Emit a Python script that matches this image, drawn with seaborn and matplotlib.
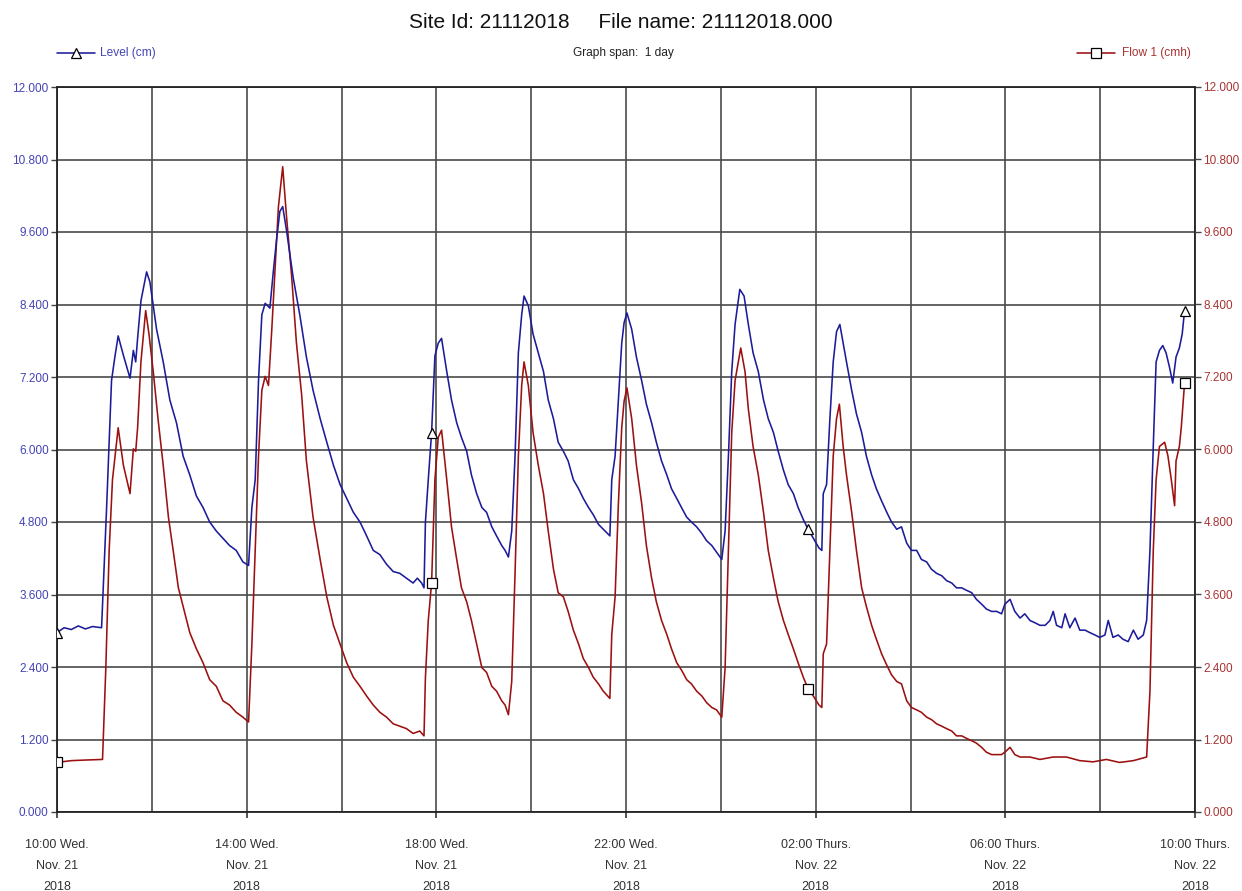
import numpy as np
import pandas as pd
import matplotlib
matplotlib.use("Agg")
import matplotlib.pyplot as plt
from matplotlib.lines import Line2D
import seaborn as sns

# Horas desde 10:00 Wed. Nov. 21 2018
level_hours = [0.0, 0.15, 0.3, 0.45, 0.6, 0.75, 0.94, 1.05, 1.15, 1.22, 1.29, 1.40, 1.54, 1.61, 1.66, 1.70,
               1.77, 1.89, 1.96, 2.10, 2.24, 2.38, 2.52, 2.66, 2.80, 2.94, 3.08, 3.22, 3.36, 3.50, 3.64, 3.78,
               3.92, 4.04, 4.11, 4.18, 4.25, 4.32, 4.39, 4.49, 4.56, 4.63, 4.70, 4.76, 4.84, 4.98, 5.12, 5.26,
               5.40, 5.55, 5.69, 5.83, 5.97, 6.11, 6.25, 6.39, 6.53, 6.67, 6.81, 6.95, 7.09, 7.23, 7.37, 7.51,
               7.60, 7.69, 7.74, 7.77, 7.83, 7.90, 7.97, 8.04, 8.11, 8.22, 8.32, 8.43, 8.53, 8.64, 8.74, 8.85,
               8.96, 9.06, 9.17, 9.27, 9.38, 9.45, 9.52, 9.59, 9.66, 9.73, 9.80, 9.85, 9.94, 10.04, 10.15, 10.26,
               10.36, 10.47, 10.57, 10.68, 10.78, 10.89, 11.00, 11.10, 11.21, 11.31, 11.42, 11.52, 11.66, 11.70,
               11.77, 11.84, 11.91, 11.96, 12.02, 12.12, 12.22, 12.33, 12.43, 12.54, 12.64, 12.75, 12.86, 12.96,
               13.07, 13.17, 13.28, 13.38, 13.49, 13.60, 13.70, 13.81, 13.91, 14.02, 14.09, 14.16, 14.23, 14.30,
               14.40, 14.49, 14.58, 14.68, 14.79, 14.90, 15.00, 15.11, 15.21, 15.32, 15.42, 15.53, 15.63, 15.74,
               15.84, 15.95, 16.07, 16.13, 16.16, 16.23, 16.30, 16.37, 16.44, 16.51, 16.58, 16.65, 16.76, 16.86,
               16.97, 17.07, 17.18, 17.28, 17.39, 17.50, 17.60, 17.71, 17.81, 17.92, 18.02, 18.13, 18.23, 18.34,
               18.44, 18.55, 18.66, 18.76, 18.87, 18.97, 19.08, 19.18, 19.29, 19.39, 19.50, 19.60, 19.71, 19.82,
               19.92, 19.99, 20.10, 20.20, 20.31, 20.41, 20.52, 20.63, 20.73, 20.84, 20.94, 21.01, 21.08, 21.19,
               21.26, 21.36, 21.47, 21.57, 21.68, 21.78, 21.89, 21.99, 22.10, 22.17, 22.27, 22.38, 22.48, 22.59,
               22.70, 22.80, 22.91, 22.98, 23.05, 23.12, 23.18, 23.25, 23.32, 23.39, 23.46, 23.53, 23.60, 23.67,
               23.73, 23.78]
level_cm = [2.97, 3.05, 3.02, 3.08, 3.03, 3.07, 3.05, 5.11, 7.14, 7.53, 7.88, 7.56, 7.18, 7.64, 7.45, 7.84,
            8.46, 8.94, 8.77, 7.99, 7.45, 6.82, 6.44, 5.89, 5.58, 5.23, 5.04, 4.80, 4.65, 4.53, 4.41, 4.33,
            4.14, 4.08, 5.04, 5.50, 7.14, 8.23, 8.42, 8.34, 8.93, 9.47, 9.94, 10.02, 9.63, 8.85, 8.23, 7.53,
            6.98, 6.51, 6.12, 5.74, 5.42, 5.19, 4.96, 4.80, 4.57, 4.33, 4.26, 4.10, 3.98, 3.95, 3.87, 3.79,
            3.87, 3.79, 3.71, 4.80, 5.50, 6.28, 7.55, 7.76, 7.84, 7.29, 6.82, 6.44, 6.20, 5.97, 5.58, 5.27,
            5.04, 4.96, 4.72, 4.57, 4.41, 4.33, 4.22, 4.65, 5.89, 7.60, 8.23, 8.54, 8.38, 7.91, 7.60, 7.29,
            6.82, 6.51, 6.12, 5.97, 5.81, 5.50, 5.35, 5.19, 5.04, 4.92, 4.76, 4.68, 4.57, 5.50,
            5.89, 6.82, 7.76, 8.10, 8.26, 7.99, 7.53, 7.14, 6.75, 6.44, 6.12, 5.81, 5.58, 5.35,
            5.19, 5.04, 4.88, 4.80, 4.72, 4.61, 4.49, 4.41, 4.30, 4.18, 4.65, 5.89, 7.29, 8.07,
            8.65, 8.54, 8.07, 7.60, 7.29, 6.82, 6.51, 6.28, 5.97, 5.66, 5.42, 5.27, 5.04, 4.84,
            4.68, 4.53, 4.37, 4.33, 5.27, 5.42, 6.51, 7.45, 7.95, 8.07, 7.76, 7.45, 6.98, 6.59,
            6.28, 5.89, 5.58, 5.35, 5.15, 4.96, 4.80, 4.68, 4.72, 4.45, 4.33, 4.33, 4.18, 4.14,
            4.02, 3.95, 3.91, 3.83, 3.79, 3.71, 3.71, 3.67, 3.63, 3.52, 3.44, 3.36, 3.32, 3.32,
            3.28, 3.44, 3.52, 3.32, 3.21, 3.28, 3.17, 3.13, 3.09, 3.09, 3.17, 3.32, 3.09, 3.05,
            3.28, 3.05, 3.21, 3.01, 3.01, 2.97, 2.93, 2.89, 2.93, 3.17, 2.89, 2.93, 2.86, 2.82,
            3.01, 2.86, 2.93, 3.17, 4.33, 6.05, 7.45, 7.64, 7.72, 7.60, 7.37, 7.10, 7.53, 7.68,
            7.91, 8.30]

flow_hours = [0.0, 0.3, 0.6, 0.96, 1.03, 1.10, 1.17, 1.29, 1.40, 1.54, 1.61, 1.66, 1.70, 1.77, 1.87, 1.94,
              2.03, 2.13, 2.24, 2.35, 2.45, 2.56, 2.66, 2.80, 2.94, 3.08, 3.22, 3.36, 3.50, 3.64, 3.78, 3.92,
              4.04, 4.11, 4.18, 4.25, 4.32, 4.39, 4.46, 4.53, 4.60, 4.67, 4.76, 4.84, 4.95, 5.05, 5.16, 5.26,
              5.40, 5.55, 5.69, 5.83, 5.97, 6.11, 6.25, 6.39, 6.53, 6.67, 6.81, 6.95, 7.09, 7.23, 7.37, 7.51,
              7.65, 7.74, 7.77, 7.83, 7.90, 7.97, 8.04, 8.11, 8.22, 8.32, 8.43, 8.53, 8.64, 8.74, 8.85, 8.96,
              9.06, 9.17, 9.27, 9.38, 9.45, 9.52, 9.59, 9.66, 9.73, 9.80, 9.85, 9.94, 10.04, 10.15, 10.26, 10.36,
              10.47, 10.57, 10.68, 10.78, 10.89, 11.00, 11.10, 11.21, 11.31, 11.42, 11.52, 11.66, 11.70, 11.77,
              11.84, 11.91, 11.96, 12.02, 12.12, 12.22, 12.33, 12.43, 12.54, 12.64, 12.75, 12.86, 12.96, 13.07,
              13.17, 13.28, 13.38, 13.49, 13.60, 13.70, 13.81, 13.91, 14.02, 14.09, 14.16, 14.23, 14.30, 14.42,
              14.51, 14.58, 14.68, 14.79, 14.90, 15.00, 15.11, 15.21, 15.32, 15.42, 15.53, 15.63, 15.74, 15.84,
              15.95, 16.07, 16.13, 16.16, 16.23, 16.30, 16.37, 16.44, 16.50, 16.58, 16.65, 16.76, 16.86, 16.97,
              17.07, 17.18, 17.28, 17.39, 17.50, 17.60, 17.71, 17.81, 17.92, 18.02, 18.13, 18.23, 18.34, 18.44,
              18.55, 18.66, 18.76, 18.87, 18.97, 19.08, 19.18, 19.29, 19.39, 19.50, 19.60, 19.71, 19.82, 19.92,
              19.99, 20.10, 20.20, 20.31, 20.52, 20.73, 21.01, 21.29, 21.57, 21.85, 22.13, 22.41, 22.70, 22.98,
              23.05, 23.12, 23.18, 23.25, 23.36, 23.43, 23.50, 23.57, 23.60, 23.67, 23.71, 23.78]
flow_cmh = [0.82, 0.85, 0.86, 0.87, 2.39, 4.33, 5.50, 6.36, 5.74, 5.27, 6.01, 5.97, 6.36, 7.45, 8.30, 7.91,
            7.29, 6.51, 5.74, 4.88, 4.33, 3.71, 3.40, 2.97, 2.70, 2.47, 2.19, 2.08, 1.84, 1.77, 1.65, 1.57,
            1.49, 2.78, 4.33, 5.89, 6.98, 7.21, 7.06, 7.99, 9.00, 10.02, 10.68, 9.86, 8.85, 7.76, 6.90, 5.81,
            4.88, 4.18, 3.56, 3.09, 2.78, 2.47, 2.23, 2.08, 1.92, 1.77, 1.65, 1.57, 1.46, 1.42, 1.38, 1.30,
            1.34, 1.26, 2.23, 3.17, 3.79, 5.50, 6.20, 6.32, 5.50, 4.72, 4.18, 3.71, 3.48, 3.17, 2.78, 2.39,
            2.31, 2.08, 2.00, 1.84, 1.77, 1.61, 2.16, 3.95, 5.89, 7.06, 7.45, 7.06, 6.28, 5.74, 5.27, 4.65,
            4.02, 3.63, 3.56, 3.32, 3.01, 2.78, 2.54, 2.39, 2.23, 2.12, 2.00, 1.88, 2.94, 3.56,
            5.11, 6.36, 6.80, 7.02, 6.51, 5.74, 5.11, 4.41, 3.87, 3.48, 3.17, 2.94, 2.70, 2.47,
            2.35, 2.19, 2.12, 2.00, 1.92, 1.81, 1.73, 1.69, 1.57, 2.39, 4.33, 6.28, 7.14, 7.68,
            7.29, 6.67, 6.05, 5.58, 4.96, 4.33, 3.87, 3.48, 3.17, 2.94, 2.70, 2.47, 2.23, 2.04,
            1.92, 1.77, 1.73, 2.62, 2.78, 4.33, 5.89, 6.51, 6.75, 6.05, 5.58, 4.96, 4.33, 3.71,
            3.40, 3.09, 2.86, 2.62, 2.43, 2.27, 2.16, 2.12, 1.84, 1.73, 1.69, 1.65, 1.57, 1.53,
            1.46, 1.42, 1.38, 1.34, 1.26, 1.26, 1.22, 1.18, 1.14, 1.07, 0.99, 0.95, 0.95, 0.95,
            0.99, 1.07, 0.95, 0.91, 0.91, 0.87, 0.91, 0.91, 0.85, 0.83, 0.87, 0.82, 0.85, 0.91,
            2.00, 4.33, 5.50, 6.05, 6.12, 5.89, 5.50, 5.07, 5.81, 6.05, 6.36, 7.10]

marker_hours = [0.0, 7.90, 15.84, 23.78]

x_tick_hours = [0, 4, 8, 12, 16, 20, 24]
x_tick_labels = ['10:00 Wed.\nNov. 21\n2018', '14:00 Wed.\nNov. 21\n2018', '18:00 Wed.\nNov. 21\n2018',
                 '22:00 Wed.\nNov. 21\n2018', '02:00 Thurs.\nNov. 22\n2018', '06:00 Thurs.\nNov. 22\n2018',
                 '10:00 Thurs.\nNov. 22\n2018']
y_ticks = [0.0, 1.2, 2.4, 3.6, 4.8, 6.0, 7.2, 8.4, 9.6, 10.8, 12.0]

blue = '#1c1c9a'
red = '#9c1010'
blue_lbl = '#4444b4'
red_lbl = '#a83434'

df_level = pd.DataFrame({'hora': level_hours, 'valor': level_cm})
df_flow = pd.DataFrame({'hora': flow_hours, 'valor': flow_cmh})
idx_level = [level_hours.index(h) for h in marker_hours]
idx_flow = [flow_hours.index(h) for h in marker_hours]

sns.set_theme(style='white')
plt.rcParams['font.family'] = ['Liberation Sans', 'DejaVu Sans']

fig = plt.figure(figsize=(12.42, 8.91), dpi=100)
ax = fig.add_axes([57 / 1242, 1 - 812 / 891, 1138 / 1242, 725 / 891])

sns.lineplot(data=df_level, x='hora', y='valor', ax=ax, color=blue, lw=1.15, estimator=None, sort=False,
             marker='^', markevery=idx_level, ms=7, mfc='white', mec='black', mew=0.9, zorder=4)
sns.lineplot(data=df_flow, x='hora', y='valor', ax=ax, color=red, lw=1.15, estimator=None, sort=False,
             marker='s', markevery=idx_flow, ms=7, mfc='white', mec='black', mew=0.9, zorder=3)

ax.set_xlim(0, 24)
ax.set_ylim(0, 12)
ax.set_xlabel('')
ax.set_ylabel('')
ax.set_xticks(x_tick_hours)
ax.set_xticks(np.arange(0, 25, 2), minor=True)
ax.set_xticklabels(x_tick_labels, fontsize=9.0, color='#333333', linespacing=1.98)
ax.set_yticks(y_ticks)
ax.set_yticklabels([f'{v:.3f}' for v in y_ticks], fontsize=8.5, color=blue_lbl)
ax.tick_params(axis='x', which='major', length=4, width=1.2, color='#333333', pad=15.5, direction='out', bottom=True)
ax.tick_params(axis='x', which='minor', length=0)
ax.tick_params(axis='y', length=4, width=1.0, color='#444444', pad=2, direction='out', left=True)
ax.grid(True, which='both', axis='x', color='#4a4a4a', lw=1.2)
ax.grid(True, which='major', axis='y', color='#4a4a4a', lw=1.2)
for s in ax.spines.values():
    s.set_color('#222222')
    s.set_linewidth(1.3)

ax2 = ax.twinx()
ax2.set_ylim(0, 12)
ax2.set_yticks(y_ticks)
ax2.set_yticklabels([f'{v:.3f}' for v in y_ticks], fontsize=8.5, color=red_lbl)
ax2.tick_params(axis='y', length=4, width=1.0, color='#444444', pad=2, direction='out', right=True)
ax2.grid(False)
for s in ax2.spines.values():
    s.set_visible(False)

# Titulo e legendas
fig.text(0.5, 1 - 22 / 891, 'Site Id: 21112018     File name: 21112018.000', ha='center', va='center',
         fontsize=15, color='#111111')
fig.text(623 / 1242, 1 - 53 / 891, 'Graph span:  1 day', ha='center', va='center', fontsize=8.6, color='#222222')

ly = 1 - 53 / 891
fig.add_artist(Line2D([57 / 1242, 95 / 1242], [ly, ly], transform=fig.transFigure, color=blue, lw=1.15))
fig.add_artist(Line2D([76 / 1242], [ly], transform=fig.transFigure, marker='^', ms=7, mfc='white', mec='black',
                      mew=0.9, lw=0))
fig.text(100 / 1242, ly, 'Level (cm)', ha='left', va='center', fontsize=8.6, color=blue_lbl)

fig.add_artist(Line2D([1077 / 1242, 1115 / 1242], [ly, ly], transform=fig.transFigure, color=red, lw=1.15))
fig.add_artist(Line2D([1096 / 1242], [ly], transform=fig.transFigure, marker='s', ms=7, mfc='white', mec='black',
                      mew=0.9, lw=0))
fig.text(1122 / 1242, ly, 'Flow 1 (cmh)', ha='left', va='center', fontsize=8.6, color=red_lbl)

fig.savefig('out.png', dpi=100, facecolor='white')
